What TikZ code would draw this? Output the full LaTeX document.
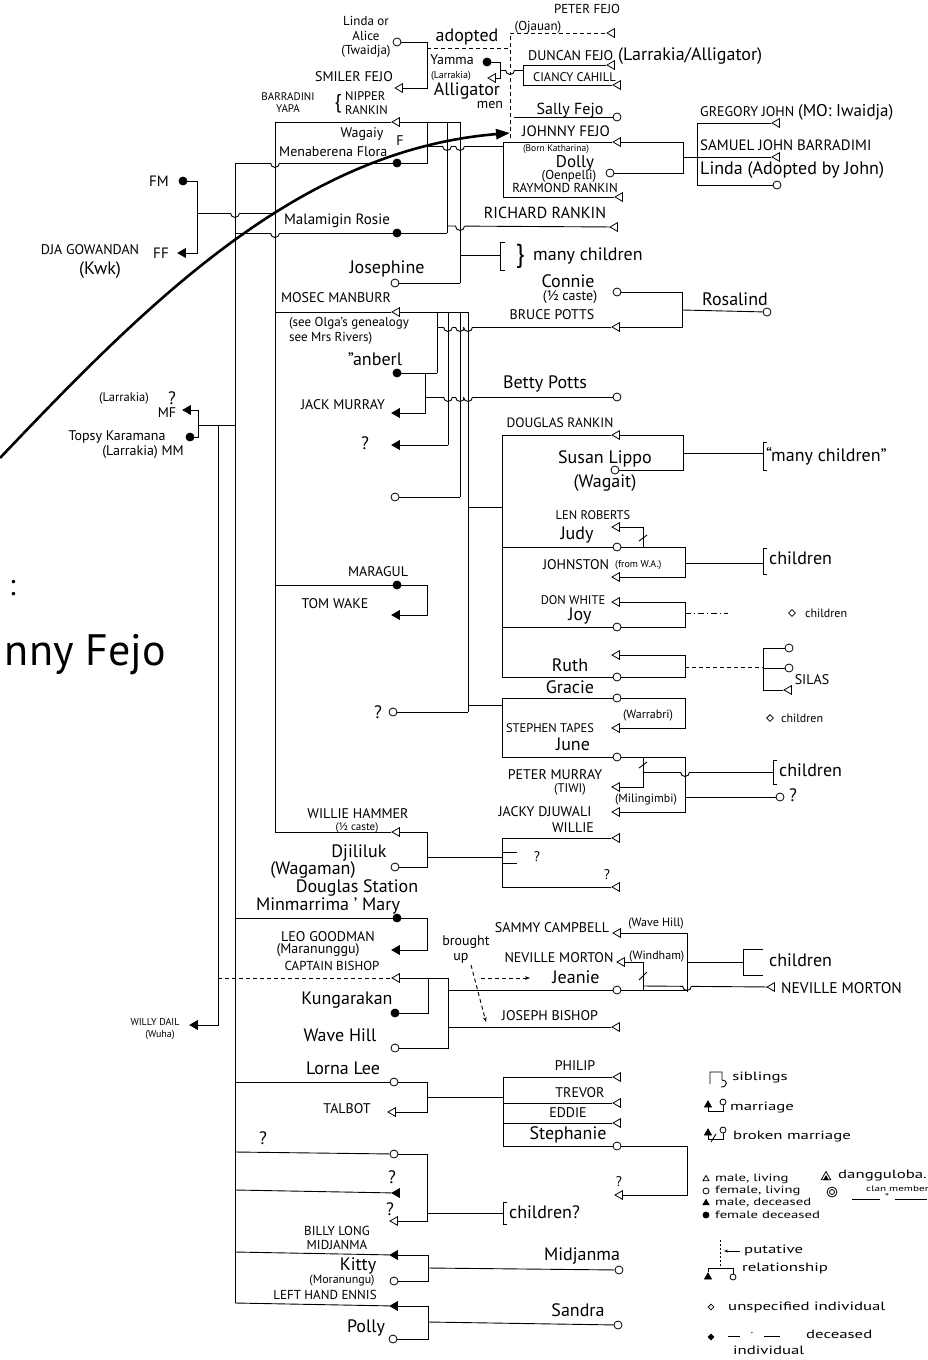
\documentclass[tikz,border=0pt]{standalone}
\usepackage{fontspec}
\setmainfont{PT Sans}
\newfontfamily\lgf[FakeStretch=1.4]{PT Sans}
\usetikzlibrary{shapes.geometric,arrows.meta}
\tikzset{
  ln/.style={line width=0.9pt},
  dsh/.style={line width=0.9pt,dash pattern=on 4pt off 3pt},
  pm/.style={draw,line width=0.8pt,inner sep=0pt,fill=white},
  male/.style={pm,regular polygon,regular polygon sides=3,shape border rotate=90,minimum size=10pt},
  maled/.style={male,fill=black},
  fem/.style={pm,circle,minimum size=8pt},
  femd/.style={fem,fill=black},
  unsp/.style={pm,diamond,minimum size=7pt},
  unspd/.style={unsp,fill=black},
  lbc/.style={font=\fontsize{14}{15}\selectfont,inner sep=0pt},
  lbs/.style={font=\fontsize{12.5}{13.5}\selectfont,inner sep=0pt},
  lbh/.style={font=\fontsize{18}{19}\selectfont,inner sep=0pt},
  lbhs/.style={font=\fontsize{14}{15}\selectfont,inner sep=0pt},
  lbt/.style={font=\fontsize{11}{12}\selectfont,inner sep=0pt},
  lg/.style={font=\lgf\fontsize{12}{13}\selectfont,inner sep=0pt},
  lgs/.style={font=\lgf\fontsize{10.5}{11}\selectfont,inner sep=0pt},
  hop/.pic={\fill[white] (-4.5,-1.8) rectangle (4.5,1.8);
            \draw[ln] (-4.5,0) arc[start angle=180,end angle=0,radius=4.5];
            \draw[ln] (0,-6) -- (0,6);}
}
\begin{document}
\begin{tikzpicture}[x=1pt,y=-1pt]
\useasboundingbox (0,0) rectangle (927,1360);
\fill[white] (0,0) rectangle (927,1360);

% ---------- title fragment ----------
\node[anchor=east,font=\fontsize{30}{34}\selectfont,inner sep=0pt] (colon) at (16,588) {:};
\node[anchor=east,font=\fontsize{44}{50}\selectfont,inner sep=0pt] (title) at (166,655) {nny Fejo};

% ---------- top block ----------
\node[fem] (lindaA) at (397,42) {};
\node[lbhs,font=\fontsize{13}{14.5}\selectfont,align=center] (tlinda) at (366,37) {Linda or\\Alice\\(Twaidja)};
\node[male] (smiler) at (400,88) {};
\node[lbc] (tsmiler) at (354,77) {SMILER FEJO};
\draw[ln] (lindaA) -- (427,42) -- (427,88) -- (smiler);
\node[lbh] (tadopt) at (467,37) {adopted};
\node[male] (peter) at (612,33) {};
\node[lbc,font=\fontsize{13}{14}\selectfont] (tpeter) at (587,9) {PETER FEJO};
\node[lbhs,font=\fontsize{13}{14}\selectfont] (tojauan) at (538,27) {(Ojauan)};
\draw[dsh] (427,48) -- (510,48);
\draw[dsh] (510,138) -- (510,33) -- (peter);

\node[femd] (yamma) at (487,62) {};
\node[lbhs] (tyamma) at (452,60) {Yamma};
\node[lbt,font=\fontsize{10}{11}\selectfont] (tlarr1) at (451,76) {(Larrakia)};
\node[male] (yammah) at (493,78) {};
\draw[ln] (yamma) -- (500,62) -- (500,78) -- (yammah);
\draw[ln] (500,70) -- (523,70);
\draw[ln] (523,65) -- (523,85);
\node[male] (duncan) at (612,65) {};
\node[male] (ciancy) at (618,85) {};
\draw[ln] (523,65) -- (duncan);
\draw[ln] (523,85) -- (ciancy);
\node[lbc,anchor=west] (tduncan) at (528,56) {DUNCAN FEJO};
\node[lbh,anchor=west] (tlarrall) at (618,56) {(Larrakia/Alligator)};
\node[lbs,anchor=west] (tciancy) at (533,77) {CIANCY CAHILL};
\node[lbh] (talli) at (467,91) {Alligator};
\node[lbhs] (tmen) at (490,105) {men};

\node[lbs,align=center,font=\fontsize{11}{12}\selectfont] (tbarr) at (288,103) {BARRADINI\\YAPA};
\node[font=\fontsize{20}{20}\selectfont,inner sep=0pt] (tbrace) at (338,104) {\{};
\node[lbc,align=left,font=\fontsize{12.5}{14}\selectfont,anchor=west] (tnip) at (345,103) {NIPPER\\RANKIN};

\node[male] (nipper) at (397,122) {};
\draw[ln] (275,122) -- (nipper);
\draw[ln] (nipper) -- (460,122);
\node[lbhs] (twag) at (362,134) {Wagaiy};
\node[lbc] (tF) at (400,141) {F};
\node[lbhs,anchor=west] (tflora) at (279,152) {Menaberena Flora};
\node[femd] (flora) at (397,163) {};
\draw[ln] (235,163) -- (flora);
\draw[ln] (flora) -- (427,163) -- (427,122);
\draw[ln] (447,122) -- (447,233);
\draw[ln] (460,122) -- (460,283);
\draw[ln] (427,146) -- (503,146);

\node[fem] (sally) at (617,117) {};
\node[lbh,font=\fontsize{16}{17}\selectfont] (tsally) at (570,110) {Sally Fejo};
\draw[ln] (514,117) -- (sally);
\node[male] (johnny) at (618,142) {};
\node[lbc,font=\fontsize{15}{16}\selectfont] (tjohnny) at (566,131) {JOHNNY FEJO};
\node[lbt,font=\fontsize{9.5}{10}\selectfont] (tborn) at (556,149) {(Born Katharina)};
\node[fem] (dolly) at (610,173) {};
\node[lbh,font=\fontsize{17}{18}\selectfont] (tdolly) at (575,163) {Dolly};
\node[lbhs,font=\fontsize{13}{14}\selectfont] (toen) at (569,176) {(Oenpelli)};
\node[male] (raymond) at (620,197) {};
\node[lbc,font=\fontsize{13}{14}\selectfont] (traymond) at (565,188) {RAYMOND RANKIN};
\draw[ln] (johnny) -- (503,142) -- (503,197) -- (raymond);
\draw[ln] (johnny) -- (683,142) -- (683,173) -- (dolly);
\draw[ln] (683,157) -- (697,157);
\node[male] (gregory) at (777,123) {};
\node[male] (samuel) at (777,157) {};
\node[fem] (lindaJ) at (777,185) {};
\draw[ln] (gregory) -- (697,123) -- (697,185) -- (lindaJ);
\draw[ln] (697,157) -- (samuel);
\node[lbc,anchor=west] (tgreg) at (700,112) {GREGORY JOHN {\fontsize{17}{18}\selectfont (MO: Iwaidja)}};
\node[lbc,anchor=west,font=\fontsize{15}{16}\selectfont] (tsam) at (700,145) {SAMUEL JOHN BARRADIMI};
\node[lbh,anchor=west] (tlindaJ) at (700,170) {Linda (Adopted by John)};

% ---------- FM / FF ----------
\node[femd] (fm) at (183,181) {};
\node[lbc,font=\fontsize{15}{16}\selectfont] (tfm) at (159,181) {FM};
\node[maled] (ff) at (183,253) {};
\node[lbc] (tdja) at (90,250) {DJA GOWANDAN};
\node[lbc,font=\fontsize{15}{16}\selectfont] (tff) at (161,253) {FF};
\node[lbh] (tkwk) at (100,270) {(Kwk)};
\draw[ln] (fm) -- (197,181) -- (197,253) -- (ff);
\draw[ln] (197,213) -- (275,213);

% ---------- main sibling lines ----------
\draw[ln] (275,122) -- (275,832);
\draw[ln] (235,163) -- (235,1303);

% ---------- Rosie / Richard / Josephine ----------
\node[femd] (rosie) at (397,233) {};
\node[lbh,font=\fontsize{15}{16}\selectfont] (trosie) at (337,221) {Malamigin Rosie};
\draw[ln] (235,233) -- (rosie);
\draw[ln] (rosie) -- (447,233);
\node[male] (richard) at (615,227) {};
\node[lbc,font=\fontsize{16}{17}\selectfont] (trich) at (545,213) {RICHARD RANKIN};
\draw[ln] (447,226) -- (richard);
\node[fem] (josephine) at (395,283) {};
\node[lbh] (tjos) at (387,269) {Josephine};
\draw[ln] (josephine) -- (460,283);
\draw[ln] (460,255) -- (500,255);
\draw[ln] (505,242) -- (500,242) -- (500,270) -- (505,270);
\node[font=\fontsize{26}{26}\selectfont,inner sep=0pt] (tbrace2) at (520,256) {\}};
\node[lbh,anchor=west] (tmany1) at (533,256) {many children};

% ---------- Connie / Bruce / Rosalind ----------
\node[fem] (connie) at (617,292) {};
\node[lbh] (tconnie) at (568,281) {Connie};
\node[lbhs] (tcaste1) at (570,297) {(½ caste)};
\node[male] (bruce) at (617,327) {};
\node[lbc] (tbruce) at (552,315) {BRUCE POTTS};
\node[fem] (rosalind) at (767,312) {};
\node[lbh] (trosal) at (735,299) {Rosalind};
\draw[ln] (437,327) -- (bruce);
\draw[ln] (bruce) -- (682,327) -- (682,292) -- (connie);
\draw[ln] (682,310) -- (rosalind);

% ---------- Mosec ----------
\node[male] (mosec) at (397,312) {};
\node[lbc] (tmosec) at (336,298) {MOSEC MANBURR};
\node[lbhs,font=\fontsize{13}{15}\selectfont,align=left] (tolga) at (349,331) {(see Olga's genealogy\\see Mrs Rivers)};
\draw[ln] (275,312) -- (mosec);
\draw[ln] (mosec) -- (468,312);
\draw[ln] (437,312) -- (437,373);
\draw[ln] (448,312) -- (448,445);
\draw[ln] (460,312) -- (460,497);
\draw[ln] (468,312) -- (468,712);
\node[femd] (manberl) at (397,373) {};
\node[lbh] (tmanb) at (375,359) {''anberl};
\draw[ln] (manberl) -- (437,373);
\node[maled] (jack) at (397,413) {};
\node[lbc] (tjack) at (343,405) {JACK MURRAY};
\draw[ln] (jack) -- (425,413) -- (425,373);
\node[fem] (betty) at (617,397) {};
\node[lbh] (tbetty) at (545,384) {Betty Potts};
\draw[ln] (425,397) -- (betty);
\node[maled] (qa) at (397,445) {};
\node[lbh] (tqa) at (365,443) {?};
\draw[ln] (qa) -- (448,445);
\node[fem] (anon) at (395,497) {};
\draw[ln] (anon) -- (460,497);
\draw[ln] (468,507) -- (502,507);
\node[femd] (maragul) at (397,585) {};
\node[lbc] (tmarag) at (378,572) {MARAGUL};
\node[maled] (tomwake) at (397,615) {};
\node[lbc] (ttom) at (335,604) {TOM WAKE};
\draw[ln] (275,585) -- (maragul);
\draw[ln] (maragul) -- (427,585) -- (427,615) -- (tomwake);
\node[fem] (qb) at (393,712) {};
\node[lbh] (tqb) at (378,712) {?};
\draw[ln] (qb) -- (468,712);
\draw[ln] (468,705) -- (502,705);

% ---------- Topsy / MF / Willy Dail ----------
\node[maled] (mf) at (188,410) {};
\node[lbs] (tlarr2) at (124,398) {(Larrakia)};
\node[lbh] (tq2) at (172,398) {?};
\node[lbc] (tmf) at (167,413) {MF};
\node[femd] (topsy) at (190,437) {};
\node[lbhs] (ttopsy) at (117,437) {Topsy Karamana};
\node[lbhs] (tmm) at (143,452) {(Larrakia) MM};
\draw[ln] (mf) -- (198,410) -- (198,437) -- (topsy);
\draw[ln] (198,425) -- (235,425);
\node[maled] (willy) at (195,1025) {};
\node[lbs,font=\fontsize{10}{11}\selectfont] (twilly) at (155,1022) {WILLY DAIL};
\node[lbt,font=\fontsize{10}{11}\selectfont] (twuha) at (160,1035) {(Wuha)};
\draw[ln] (218,425) -- (218,1025) -- (willy);

% ---------- Douglas Rankin group ----------
\draw[ln] (502,435) -- (502,677);
\node[male] (douglas) at (617,435) {};
\node[lbc,font=\fontsize{13.5}{14.5}\selectfont] (tdoug) at (560,423) {DOUGLAS RANKIN};
\node[fem] (susan) at (615,470) {};
\node[lbh] (tsusan) at (605,459) {Susan Lippo};
\node[lbh] (twagait) at (605,483) {(Wagait)};
\draw[ln] (502,435) -- (douglas);
\draw[ln] (douglas) -- (683,435) -- (683,470) -- (susan);
\draw[ln] (683,453) -- (763,453);
\draw[ln] (767,442) -- (763,442) -- (763,470) -- (767,470);
\node[lbh,anchor=west] (tmany2) at (766,456) {“many children”};

\node[male] (len) at (617,527) {};
\node[lbs] (tlen) at (593,515) {LEN ROBERTS};
\node[fem] (judy) at (617,547) {};
\node[lbh] (tjudy) at (577,535) {Judy};
\draw[ln] (len) -- (643,527) -- (643,547);
\draw[ln] (639,541) -- (647,535);
\draw[ln] (502,547) -- (judy);
\node[male] (johnston) at (617,577) {};
\node[lbc] (tjohnst) at (576,565) {JOHNSTON};
\node[lbt,font=\fontsize{10}{11}\selectfont,anchor=west] (twa) at (615,565) {(from W.A.)};
\draw[ln] (judy) -- (685,547) -- (685,577) -- (johnston);
\draw[ln] (685,563) -- (763,563);
\draw[ln] (767,548) -- (763,548) -- (763,574) -- (767,574);
\node[lbh,anchor=west] (tch1) at (769,558) {children};

\node[male] (don) at (617,602) {};
\node[lbs] (tdon) at (573,600) {DON WHITE};
\node[fem] (joy) at (617,627) {};
\node[lbh] (tjoy) at (580,616) {Joy};
\draw[ln] (502,627) -- (joy);
\draw[ln] (don) -- (685,602) -- (685,627) -- (joy);
\draw[ln,dash pattern=on 6pt off 3pt on 1pt off 3pt] (685,613) -- (728,613);
\node[unsp] (uch1) at (792,613) {};
\node[lbt,font=\fontsize{12}{13}\selectfont,anchor=west] (tch2) at (805,613) {children};

\node[male] (ruthh) at (617,655) {};
\node[fem] (ruth) at (617,677) {};
\node[lbh] (truth) at (570,665) {Ruth};
\draw[ln] (502,677) -- (ruth);
\draw[ln] (ruthh) -- (685,655) -- (685,677) -- (ruth);
\draw[dsh] (685,667) -- (763,667);
\node[fem] (rc1) at (789,648) {};
\node[fem] (rc2) at (789,668) {};
\node[male] (silas) at (789,690) {};
\draw[ln] (rc1) -- (763,648) -- (763,690) -- (silas);
\draw[ln] (763,668) -- (rc2);
\node[lbc] (tsilas) at (812,680) {SILAS};

% ---------- Gracie / June group ----------
\draw[ln] (502,698) -- (502,757);
\node[fem] (gracie) at (617,698) {};
\node[lbh] (tgracie) at (570,687) {Gracie};
\node[male] (stephen) at (617,728) {};
\node[lbs] (tsteph) at (550,728) {STEPHEN TAPES};
\node[lbt,font=\fontsize{12}{13}\selectfont] (twarr) at (648,716) {(Warrabri)};
\draw[ln] (502,698) -- (gracie);
\draw[ln] (gracie) -- (685,698) -- (685,728) -- (stephen);
\node[unsp] (uch2) at (770,718) {};
\node[lbt,font=\fontsize{12}{13}\selectfont,anchor=west] (tch3) at (781,718) {children};

\node[fem] (june) at (617,757) {};
\node[lbh] (tjune) at (573,744) {June};
\node[male] (petermu) at (617,787) {};
\node[lbc] (tpm) at (555,775) {PETER MURRAY};
\node[lbs] (ttiwi) at (570,789) {(TIWI)};
\node[male] (jacky) at (617,812) {};
\node[lbc] (tjacky) at (545,812) {JACKY DJUWALI};
\node[lbt,font=\fontsize{12}{13}\selectfont] (tmil) at (646,800) {(Milingimbi)};
\draw[ln] (502,757) -- (june);
\draw[ln] (june) -- (685,757) -- (685,812) -- (jacky);
\draw[ln] (643,757) -- (643,787) -- (petermu);
\draw[ln] (639,768) -- (647,762);
\draw[ln] (643,772) -- (773,772);
\draw[ln] (777,760) -- (773,760) -- (773,784) -- (777,784);
\node[lbh,anchor=west] (tch4) at (779,770) {children};
\node[fem] (qc) at (780,797) {};
\node[lbh] (tqc) at (793,795) {?};
\draw[ln] (685,797) -- (qc);

% ---------- Willie Hammer ----------
\node[male] (willieh) at (397,832) {};
\node[lbc] (twh) at (358,814) {WILLIE HAMMER};
\node[lbt,font=\fontsize{11}{12}\selectfont] (tcaste2) at (357,828) {(½ caste)};
\draw[ln] (275,832) -- (willieh);
\node[fem] (djil) at (395,867) {};
\node[lbh] (tdjil) at (359,853) {Djililuk};
\node[lbh] (twagm) at (313,870) {(Wagaman)};
\node[lbh] (tdst) at (357,888) {Douglas Station};
\draw[ln] (willieh) -- (427,832) -- (427,867) -- (djil);
\draw[ln] (427,857) -- (502,857);
\node[male] (willie) at (617,838) {};
\node[lbc] (twillie) at (573,828) {WILLIE};
\node[male] (wq) at (617,887) {};
\draw[ln] (willie) -- (502,838) -- (502,887) -- (wq);
\draw[ln] (502,852) -- (517,852);
\draw[ln] (502,863) -- (517,863);
\node[lbhs] (twq1) at (537,857) {?};
\node[lbhs] (twq2) at (607,875) {?};

% ---------- Mary / Captain Bishop ----------
\node[femd] (mary) at (397,918) {};
\node[lbh] (tmary) at (328,906) {Minmarrima ' Mary};
\node[maled] (leo) at (397,950) {};
\node[lbc] (tleo) at (328,937) {LEO GOODMAN};
\node[lbhs] (tmaran) at (318,950) {(Maranunggu)};
\node[male] (capt) at (397,978) {};
\node[lbc,font=\fontsize{13}{14}\selectfont] (tcapt) at (332,966) {CAPTAIN BISHOP};
\draw[ln] (235,918) -- (mary);
\draw[ln] (mary) -- (427,918) -- (427,950) -- (leo);
\draw[dsh] (218,978) -- (capt);
\draw[ln] (capt) -- (448,978);
\node[femd] (kung) at (395,1013) {};
\node[lbh] (tkung) at (347,1000) {Kungarakan};
\node[fem] (wavehill) at (395,1048) {};
\node[lbh] (twave) at (340,1035) {Wave Hill};
\draw[ln] (kung) -- (428,1013) -- (428,978);
\draw[ln] (wavehill) -- (448,1048) -- (448,978);
\node[lbhs] (tbrought) at (466,942) {brought};
\node[lbhs] (tup) at (461,958) {up};
\coordinate (bu) at (471,965);
\coordinate (bj) at (486,1022);
\draw[dsh,-{Stealth[length=5pt]}] (bu) -- (bj);

\node[male] (sammy) at (618,933) {};
\node[lbc] (tsammy) at (552,928) {SAMMY CAMPBELL};
\node[lbt,font=\fontsize{12}{13}\selectfont] (twh2) at (656,924) {(Wave Hill)};
\node[male] (nevm) at (622,962) {};
\node[lbc] (tnev) at (559,958) {NEVILLE MORTON};
\node[lbt,font=\fontsize{12}{13}\selectfont,anchor=west] (twind) at (629,957) {(Windham)};
\node[fem] (jeanie) at (617,990) {};
\node[lbh] (tjeanie) at (576,977) {Jeanie};
\coordinate (ja) at (481,978);
\coordinate (jb) at (530,978);
\draw[dsh,-{Stealth[length=5pt]}] (ja) -- (jb);
\draw[ln] (448,990) -- (jeanie);
\draw[ln] (jeanie) -- (687,990) -- (687,933) -- (sammy);
\draw[ln] (nevm) -- (643,962) -- (643,990);
\draw[ln] (639,980) -- (647,972);
\draw[ln] (687,962) -- (743,962);
\draw[ln] (763,949) -- (743,949) -- (743,975) -- (763,975);
\node[lbh,anchor=west] (tch5) at (769,960) {children};
\node[male] (nevm2) at (772,987) {};
\node[lbc,anchor=west,font=\fontsize{15.5}{16.5}\selectfont] (tnev2) at (781,988) {NEVILLE MORTON};
\draw[ln] (643,986) -- (nevm2);
\node[male] (joseph) at (617,1027) {};
\node[lbc] (tjoseph) at (550,1016) {JOSEPH BISHOP};
\draw[ln] (448,1027) -- (joseph);

% ---------- Lorna Lee ----------
\node[fem] (lorna) at (394,1082) {};
\node[lbh] (tlorna) at (343,1068) {Lorna Lee};
\node[male] (talbot) at (393,1112) {};
\node[lbc] (ttalbot) at (347,1109) {TALBOT};
\draw[ln] (235,1082) -- (lorna);
\draw[ln] (lorna) -- (427,1082) -- (427,1112) -- (talbot);
\draw[ln] (427,1097) -- (503,1097);
\node[male] (philip) at (618,1077) {};
\node[male] (trevor) at (618,1103) {};
\node[male] (eddie) at (618,1123) {};
\node[fem] (stephanie) at (617,1146) {};
\draw[ln] (philip) -- (503,1077) -- (503,1146) -- (stephanie);
\draw[ln] (503,1103) -- (trevor);
\draw[ln] (503,1123) -- (eddie);
\node[lbc] (tphil) at (575,1066) {PHILIP};
\node[lbc] (ttrev) at (580,1093) {TREVOR};
\node[lbc] (tedd) at (568,1113) {EDDIE};
\node[lbh] (tsteph2) at (568,1135) {Stephanie};
\node[male] (qd) at (620,1195) {};
\node[lbhs] (tqd) at (619,1182) {?};
\draw[ln] (stephanie) -- (687,1146) -- (687,1195) -- (qd);

% ---------- question-mark group ----------
\node[lbh] (tqe) at (263,1138) {?};
\node[fem] (qe) at (394,1154) {};
\draw[ln] (235,1152) -- (qe);
\node[lbh] (tqf) at (392,1177) {?};
\node[maled] (qf) at (397,1193) {};
\draw[ln] (235,1190) -- (qf);
\node[lbh] (tqg) at (390,1209) {?};
\node[male] (qg) at (395,1221) {};
\draw[ln] (qe) -- (427,1154) -- (427,1221) -- (qg);
\draw[ln] (427,1213) -- (503,1213);
\draw[ln] (507,1202) -- (503,1202) -- (503,1224) -- (507,1224);
\node[lbh,anchor=west] (tch6) at (509,1212) {children?};

% ---------- Billy Long / Left Hand Ennis ----------
\node[lbc,align=center,font=\fontsize{13}{14}\selectfont] (tbilly) at (337,1238) {BILLY LONG\\MIDJANMA};
\node[maled] (billy) at (395,1255) {};
\node[fem] (kitty) at (394,1281) {};
\node[lbh] (tkitty) at (358,1266) {Kitty};
\node[lbt,font=\fontsize{12}{13}\selectfont] (tmor) at (342,1281) {(Moranungu)};
\draw[ln] (235,1252) -- (billy);
\draw[ln] (billy) -- (428,1255) -- (428,1281) -- (kitty);
\node[fem] (midj) at (619,1270) {};
\node[lbh] (tmidj) at (582,1256) {Midjanma};
\draw[ln] (428,1268) -- (midj);
\node[lbc,font=\fontsize{13}{14}\selectfont] (tennis) at (325,1295) {LEFT HAND ENNIS};
\node[maled] (ennis) at (395,1306) {};
\node[fem] (polly) at (393,1339) {};
\node[lbh] (tpolly) at (366,1328) {Polly};
\draw[ln] (235,1303) -- (ennis);
\draw[ln] (ennis) -- (428,1306) -- (428,1339) -- (polly);
\node[fem] (sandra) at (618,1325) {};
\node[lbh] (tsandra) at (578,1310) {Sandra};
\draw[ln] (428,1322) -- (sandra);

% ---------- hops ----------
\pic at (275,163) {hop};
\pic at (235,213) {hop};
\pic at (275,233) {hop};
\pic at (447,146) {hop};
\pic at (460,146) {hop};
\pic at (460,226) {hop};
\pic at (448,327) {hop};
\pic at (460,327) {hop};
\pic at (468,327) {hop};
\pic at (448,397) {hop};
\pic at (460,397) {hop};
\pic at (468,397) {hop};
\pic at (687,986) {hop};
\pic at (685,772) {hop};
\fill[white] (506,68.2) rectangle (514,71.8);
\draw[ln] (505.5,70) arc[start angle=180,end angle=0,radius=4.5];

% ---------- legend ----------
\draw[ln] (710,1084) -- (710,1072) -- (722,1072) -- (722,1080) .. controls (728,1080) and (728,1087) .. (721,1087);
\node[lg] (lsib) at (760,1078) {siblings};
\node[pm,regular polygon,regular polygon sides=3,minimum size=8pt,fill=black] (lm1) at (708,1105) {};
\node[fem,minimum size=6pt] (lm2) at (723,1102) {};
\draw[ln] (lm1) -- (708,1111) -- (723,1111) -- (lm2);
\node[lg] (lmar) at (762,1108) {marriage};
\node[pm,regular polygon,regular polygon sides=3,minimum size=8pt,fill=black] (lb1) at (708,1133) {};
\node[fem,minimum size=6pt] (lb2) at (723,1130) {};
\draw[ln] (lb1) -- (708,1139) -- (723,1139) -- (lb2);
\draw[ln] (711,1142) -- (716,1134);
\node[lg] (lbro) at (792,1137) {broken marriage};
\node[pm,regular polygon,regular polygon sides=3,minimum size=7pt] (lml) at (706,1179) {};
\node[lgs,anchor=west] (tml) at (715,1179) {male, living};
\node[pm,regular polygon,regular polygon sides=3,minimum size=11pt] (ldg) at (826,1177) {};
\node[pm,regular polygon,regular polygon sides=3,minimum size=5pt,fill=black] (ldg2) at (826,1178.5) {};
\node[lg,anchor=west] (tdg) at (838,1176) {dangguloba.};
\node[fem,minimum size=6pt] (lfl) at (706,1191) {};
\node[lgs,anchor=west] (tfl) at (715,1191) {female, living};
\node[fem,minimum size=10pt] (lcl) at (832,1192) {};
\node[fem,minimum size=5pt] (lcl2) at (832,1192) {};
\node[lbt,font=\lgf\fontsize{8}{9}\selectfont,anchor=west] (tcl) at (866,1189) {clan member};
\draw[line width=0.6pt] (852,1199) -- (880,1199);
\draw[line width=0.6pt] (895,1199) -- (927,1199);
\node[lbt] (tditto) at (887,1198) {''};
\node[pm,regular polygon,regular polygon sides=3,minimum size=7pt,fill=black] (lmd) at (706,1203) {};
\node[lgs,anchor=west] (tmd) at (715,1203) {male, deceased};
\node[femd,minimum size=6pt] (lfd) at (706,1215) {};
\node[lgs,anchor=west] (tfd) at (715,1215) {female deceased};
\draw[dsh,dash pattern=on 2pt off 2pt] (720,1240) -- (720,1268);
\coordinate (lpa) at (740,1251);
\coordinate (lpb) at (724,1251);
\draw[ln,-{Stealth[length=4pt]}] (lpa) -- (lpb);
\node[lg,anchor=west] (tput) at (744,1250) {putative};
\node[pm,regular polygon,regular polygon sides=3,minimum size=8pt,fill=black] (lr1) at (708,1277) {};
\node[fem,minimum size=6pt] (lr2) at (733,1277) {};
\draw[ln] (lr1) -- (708,1268) -- (733,1268) -- (lr2);
\node[lg,anchor=west] (trel) at (742,1268) {relationship};
\node[unsp,minimum size=6pt] (lun) at (711,1307) {};
\node[lg,anchor=west] (tun) at (728,1307) {unspecified individual};
\node[unspd,minimum size=6pt] (lud) at (711,1337) {};
\draw[line width=0.6pt] (728,1336) -- (740,1336);
\node[lbt] (tdot) at (752,1333) {.};
\draw[line width=0.6pt] (764,1336) -- (780,1336);
\node[lg,anchor=west] (tdec) at (806,1334) {deceased};
\node[lg,anchor=west] (tind) at (733,1350) {individual};

% ---------- big arrow ----------
\coordinate (arrS) at (0,458);
\coordinate (arrE) at (510,133);
\draw[line width=2.6pt,-{Triangle[length=14pt,width=10pt]}] (arrS) .. controls (150,300) and (300,150) .. (arrE);
\end{tikzpicture}
\end{document}
